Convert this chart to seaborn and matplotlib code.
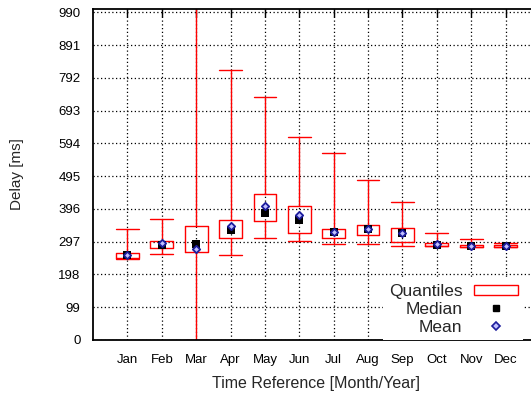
import numpy as np
import pandas as pd
import matplotlib
matplotlib.use("Agg")
import matplotlib.pyplot as plt
from matplotlib.ticker import MultipleLocator
from matplotlib.patches import Rectangle
from matplotlib.lines import Line2D
import seaborn as sns

# Monthly delay statistics in milliseconds
months = ["Jan", "Feb", "Mar", "Apr", "May", "Jun",
          "Jul", "Aug", "Sep", "Oct", "Nov", "Dec"]
delay_min = [246, 260, 0, 257, 307, 299, 289, 291, 284, 284, 282, 281]
delay_q1 = [249, 278, 265, 308, 361, 322, 308, 317, 296, 284, 282, 281]
delay_median = [257, 288, 290, 332, 385, 364, 325, 334, 322, 288, 285, 283]
delay_mean = [258, 292, 275, 343, 405, 377, 326, 335, 324, 289, 285, 284]
delay_q3 = [264, 298, 345, 362, 440, 405, 336, 346, 337, 292, 288, 287]
delay_max = [335, 366, 1100, 815, 735, 613, 565, 482, 418, 322, 304, 292]
y_ticks = [0, 99, 198, 297, 396, 495, 594, 693, 792, 891, 990]

sns.set_theme(style="white")
plt.rcParams["font.family"] = ["Liberation Sans", "DejaVu Sans"]

RED = "#ff0000"
MEAN_EDGE = "#1c1c9c"
MEAN_FACE = "#c0c0ff"

fig = plt.figure(figsize=(5.31, 3.94), dpi=100)
ax = fig.add_axes([93 / 531, 1 - 340 / 394, 447 / 531, 331 / 394])

positions = np.arange(1, len(months) + 1)
stats = [
    dict(whislo=lo, q1=a, med=m, q3=b, whishi=hi, fliers=[])
    for lo, a, m, b, hi in zip(delay_min, delay_q1, delay_median, delay_q3, delay_max)
]
line_kw = dict(color=RED, linewidth=1.0)
ax.bxp(stats, positions=positions, widths=0.66, capwidths=0.66,
       showfliers=False, patch_artist=False,
       boxprops=line_kw, whiskerprops=line_kw, capprops=line_kw,
       medianprops=dict(visible=False), manage_ticks=False)

df = pd.DataFrame({"x": positions, "median": delay_median, "mean": delay_mean})
sns.scatterplot(data=df, x="x", y="median", marker="s", color="black",
                s=30, linewidth=0, ax=ax, zorder=4)
sns.scatterplot(data=df, x="x", y="mean", marker="D", color=MEAN_FACE,
                edgecolor=MEAN_EDGE, s=14, linewidth=1.3, ax=ax, zorder=5)

ax.set_xlim(0, 13)
ax.set_ylim(0, 1000)
ax.set_xticks(positions, months)
ax.set_yticks(y_ticks)
ax.yaxis.set_minor_locator(MultipleLocator(19.8))

ax.grid(True, which="major", color="black", linestyle=(0, (1, 2)), linewidth=0.9)
ax.set_axisbelow(True)
ax.tick_params(which="both", direction="in", top=True, right=True,
               colors="black", labelsize=9.5)
ax.tick_params(which="major", length=6, width=1.0)
ax.tick_params(which="minor", length=3, width=0.8)
ax.tick_params(axis="x", pad=10)
ax.tick_params(axis="y", pad=9)
for sp in ax.spines.values():
    sp.set_visible(True)
    sp.set_color("black")
    sp.set_linewidth(1.3)

ax.set_xlabel("Time Reference [Month/Year]", fontsize=11.5, labelpad=7)
ax.set_ylabel("Delay [ms]", fontsize=11, labelpad=25)

handles = [
    Rectangle((0, 0), 1, 1, facecolor="white", edgecolor=RED, linewidth=1.0),
    Line2D([], [], marker="s", color="black", linestyle="none", markersize=5),
    Line2D([], [], marker="D", linestyle="none", markerfacecolor=MEAN_FACE,
           markeredgecolor=MEAN_EDGE, markeredgewidth=1.2, markersize=4),
]
ax.legend(handles, ["Quantiles", "Median", "Mean"], loc="lower right",
          bbox_to_anchor=(0.962, 0.0), markerfirst=False, frameon=True,
          fancybox=False, framealpha=1, edgecolor="none", facecolor="white",
          fontsize=12.5, handlelength=2.5, handleheight=0.55,
          handletextpad=0.7, labelspacing=0.17, borderpad=0.3,
          borderaxespad=0)

fig.savefig("out.png", dpi=100)
